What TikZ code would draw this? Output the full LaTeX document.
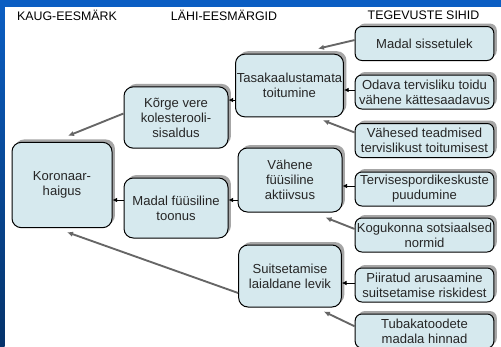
\documentclass[tikz,border=0pt]{standalone}
\usepackage{fontspec}
\setmainfont{Liberation Sans}
\usetikzlibrary{arrows.meta,shadows}
\definecolor{boxfill}{HTML}{D6E9EE}
\definecolor{slideblue}{HTML}{0B5EC3}
\definecolor{slidedark}{HTML}{05336A}
\begin{document}
\begin{tikzpicture}[x=0.75pt,y=-0.75pt,
  txt/.style={font=\fontsize{9.8}{11.3}\selectfont, text=black!85},
  boxbase/.style={txt, draw=black, line width=0.75pt, fill=boxfill, align=center, inner sep=1pt,
    general shadow={fill=black!35, shadow xshift=2.2pt, shadow yshift=2.2pt}},
  bigbox/.style={boxbase, rounded corners=7pt, minimum width=77pt, minimum height=46pt},
  smallbox/.style={boxbase, rounded corners=5pt, minimum width=104pt, minimum height=25.5pt},
  harrow/.style={draw=black, line width=0.6pt, -{Latex[length=3.5pt,width=3.5pt]}},
  darrow/.style={draw=black!60, line width=1.4pt, -{Latex[length=4.5pt,width=4pt]}},
  header/.style={font=\fontsize{9.3}{11.3}\selectfont, text=black}
]
\useasboundingbox (0,0) rectangle (501,347);
\fill[white] (0,0) rectangle (501,347);
\fill[slideblue] (0,0) rectangle (501,7);
\shade[top color=slideblue, bottom color=slidedark] (0,0) rectangle (4.5,347);

% headers
\node[header] (h1) at (67,15) {KAUG-EESMÄRK};
\node[header] (h2) at (224,15) {LÄHI-EESMÄRGID};
\node[header] (h3) at (423.5,15) {TEGEVUSTE SIHID};

% left column
\node[bigbox, minimum width=75pt, minimum height=64pt] (kor) at (62,185) {Koronaar-\\haigus};
% middle-left
\node[bigbox, minimum width=78pt] (korge) at (176,117.5) {Kõrge vere\\kolesterooli-\\sisaldus};
\node[bigbox, minimum width=78pt, minimum height=45pt] (madal) at (176,208) {Madal füüsiline\\toonus};
% middle-right
\node[bigbox, minimum height=47pt] (tasak) at (289.5,85.5) {Tasakaalustamata\\toitumine};
\node[bigbox, minimum width=78pt, minimum height=48pt] (vahene) at (290,180) {Vähene\\füüsiline\\aktiivsus};
\node[bigbox, minimum height=46.5pt] (suits) at (290,276) {Suitsetamise\\laialdane levik};
% right column
\node[smallbox] (sisset) at (424.5,43.5) {Madal sissetulek};
\node[smallbox] (odava) at (424.5,92) {Odava tervisliku toidu\\vähene kättesaadavus};
\node[smallbox] (teadm) at (424.5,140.5) {Vähesed teadmised\\tervislikust toitumisest};
\node[smallbox] (terv) at (424.5,189) {Tervisespordikeskuste\\puudumine};
\node[smallbox] (kogu) at (424.5,235) {Kogukonna sotsiaalsed\\normid};
\node[smallbox] (piir) at (424.5,285) {Piiratud arusaamine\\suitsetamise riskidest};
\node[smallbox] (tuba) at (424.5,331) {Tubakatoodete\\madala hinnad};

% horizontal arrows
\path ([yshift=1.5pt]odava.west) coordinate (a1);
\draw[harrow] (a1) -- (a1 -| tasak.east);
\path ([yshift=-10.9pt]tasak.west) coordinate (a2);
\draw[harrow] (a2) -- (a2 -| korge.east);
\path ([yshift=2.25pt]terv.west) coordinate (a3);
\draw[harrow] (a3) -- (a3 -| vahene.east);
\path ([yshift=-15pt]vahene.west) coordinate (a4);
\draw[harrow] (a4) -- (a4 -| madal.east);
\path ([yshift=6pt]madal.west) coordinate (a5);
\draw[harrow] (a5) -- (a5 -| kor.east);
\path ([yshift=1.5pt]piir.west) coordinate (a6);
\draw[harrow] (a6) -- (a6 -| suits.east);

% diagonal arrows
\draw[darrow] ([yshift=2.6pt]sisset.west) -- ([xshift=-19.5pt,yshift=3.75pt]tasak.north east);
\draw[darrow] ([yshift=6pt]teadm.west) -- ([xshift=-15.75pt,yshift=-2.25pt]tasak.south east);
\draw[darrow] ([yshift=4.5pt]kogu.west) -- ([xshift=-12.75pt,yshift=-3.75pt]vahene.south east);
\draw[darrow] ([yshift=3.5pt]tuba.west) -- ([xshift=-13.5pt,yshift=-3pt]suits.south east);
\draw[darrow] ([yshift=3pt]korge.west) -- ([xshift=4.5pt,yshift=4.5pt]kor.north);
\draw[darrow] ([yshift=-12.75pt]suits.west) -- ([xshift=3.75pt,yshift=-3pt]kor.south);
\end{tikzpicture}
\end{document}
